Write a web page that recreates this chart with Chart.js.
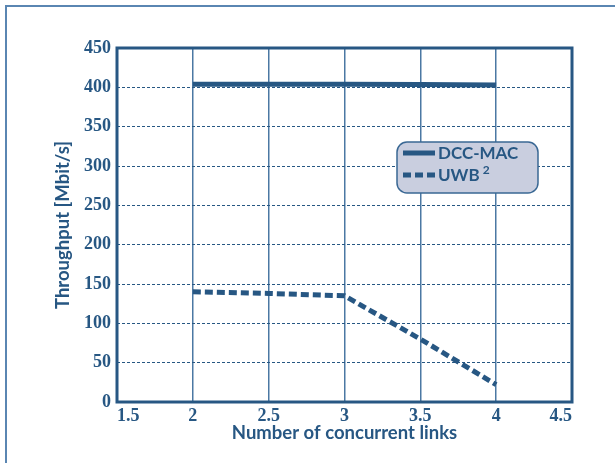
<!DOCTYPE html>
<html>
<head>
<meta charset="utf-8">
<script src="https://cdn.jsdelivr.net/npm/chart.js@4/dist/chart.umd.min.js"></script>
<style>
  html, body { margin: 0; padding: 0; background: #fff; }
  #wrap { width: 615px; height: 463px; position: relative; }
</style>
</head>
<body>
<div id="wrap"><canvas id="c" width="615" height="463"></canvas></div>
<script>
// Throughput vs. number of concurrent links
const links = [2, 2.5, 3, 3.5, 4];
const dccMac = [404, 404, 404, 403.5, 403];
const uwb = [140, 138, 135, 80, 22];
const seriesNames = ['DCC-MAC', 'UWB'];
const seriesSup = ['', '2'];
const xTicks = [1.5, 2, 2.5, 3, 3.5, 4, 4.5];
const yTicks = [0, 50, 100, 150, 200, 250, 300, 350, 400, 450];

const ink = '#275783';
const gridInk = '#4b78a3';
const tickFont = { family: 'Liberation Serif', weight: 'bold', size: 18 };
const titleFont = { family: 'Lato', weight: 'bold', size: 18.5 };

// frame around the plot, outer page rule and the in-plot legend
const decorations = {
  id: 'decorations',
  beforeDraw(chart) {
    const ctx = chart.ctx;
    ctx.save();
    ctx.strokeStyle = '#5a86b2';
    ctx.lineWidth = 2;
    ctx.beginPath();
    ctx.moveTo(6, 463);
    ctx.lineTo(6, 6);
    ctx.lineTo(615, 6);
    ctx.stroke();
    ctx.restore();
  },
  afterDraw(chart) {
    const ctx = chart.ctx;
    const a = chart.chartArea;
    ctx.save();
    ctx.strokeStyle = ink;
    ctx.lineWidth = 3;
    ctx.strokeRect(a.left, a.top, a.right - a.left, a.bottom - a.top);

    // legend box
    const bx = 397, by = 142, bw = 141, bh = 51, r = 10;
    ctx.beginPath();
    ctx.roundRect(bx, by, bw, bh, r);
    ctx.fillStyle = '#c9cedf';
    ctx.fill();
    ctx.lineWidth = 1.5;
    ctx.strokeStyle = '#3a6894';
    ctx.stroke();

    chart.data.datasets.forEach((ds, i) => {
      const y = by + 11 + i * 22;
      ctx.beginPath();
      ctx.setLineDash(ds.borderDash || []);
      ctx.lineWidth = 5;
      ctx.strokeStyle = ds.borderColor;
      ctx.moveTo(bx + 6, y);
      ctx.lineTo(bx + 38, y);
      ctx.stroke();
      ctx.setLineDash([]);
      ctx.fillStyle = ink;
      ctx.font = 'bold 17px Lato';
      ctx.textBaseline = 'middle';
      ctx.textAlign = 'left';
      ctx.fillText(seriesNames[i], bx + 41, y + 1);
      if (seriesSup[i]) {
        const w = ctx.measureText(seriesNames[i]).width;
        ctx.font = 'bold 12px Lato';
        ctx.fillText(seriesSup[i], bx + 41 + w + 3, y - 5);
      }
    });
    ctx.restore();
  }
};

new Chart(document.getElementById('c'), {
  type: 'line',
  data: {
    datasets: [
      {
        label: seriesNames[0],
        data: links.map((x, i) => ({ x, y: dccMac[i] })),
        borderColor: ink,
        borderWidth: 5,
        pointRadius: 0,
        tension: 0
      },
      {
        label: seriesNames[1] + seriesSup[1],
        data: links.map((x, i) => ({ x, y: uwb[i] })),
        borderColor: ink,
        borderWidth: 5,
        borderDash: [8, 4],
        pointRadius: 0,
        tension: 0
      }
    ]
  },
  options: {
    responsive: false,
    animation: false,
    devicePixelRatio: 1,
    layout: { padding: { top: 48, right: 43, left: 52, bottom: 19 } },
    plugins: { legend: { display: false }, tooltip: { enabled: false } },
    scales: {
      x: {
        type: 'linear',
        min: 1.5, max: 4.5,
        afterBuildTicks(s) { s.ticks = xTicks.map(v => ({ value: v })); },
        afterFit(s) { s.height = 42; },
        grid: { color: gridInk, lineWidth: 1.5, drawTicks: false },
        border: { display: false },
        ticks: {
          color: ink, font: tickFont, padding: 4, maxRotation: 0, align: 'inner',
          callback: v => String(v)
        },
        title: { display: true, text: 'Number of concurrent links', color: ink, font: titleFont, padding: { top: -3, bottom: 0 } }
      },
      y: {
        min: 0, max: 450,
        afterBuildTicks(s) { s.ticks = yTicks.map(v => ({ value: v })); },
        afterFit(s) { s.width = 65; },
        grid: { color: ink, lineWidth: 1, drawTicks: false },
        border: { display: false, dash: [3, 2] },
        ticks: { color: ink, font: tickFont, padding: 6, callback: v => String(v) },
        title: { display: true, text: 'Throughput [Mbit/s]', color: ink, font: titleFont, padding: { top: 0, bottom: 4 } }
      }
    }
  },
  plugins: [decorations]
});
</script>
</body>
</html>
